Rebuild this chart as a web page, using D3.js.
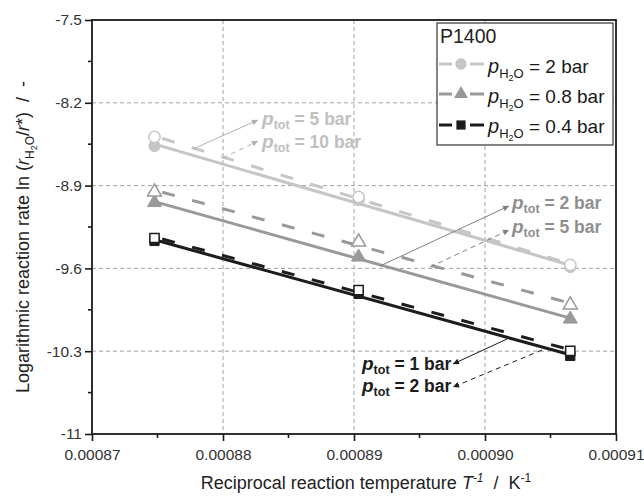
<!DOCTYPE html>
<html><head><meta charset="utf-8">
<script src="https://cdn.jsdelivr.net/npm/d3@7"></script>
<style>body{margin:0;background:#fff}svg{font-family:"Liberation Sans",Arial,sans-serif}</style>
</head><body><svg id="c" width="644" height="496"></svg>
<script>
// ---- data ----
const xValues = [0.00087477, 0.00089035, 0.00090651];          // 1/T (K^-1)
const seriesNames = ["2 bar", "0.8 bar", "0.4 bar"];            // p_H2O
const seriesColors = ["#c6c6c6", "#999999", "#1c1c1c"];
const seriesSymbols = ["circle", "triangle", "square"];
// solid (filled markers) and dashed (open markers) values
const solidValues = [
  [-8.565, -9.022, -9.588],
  [-9.043, -9.504, -10.028],
  [-9.368, -9.816, -10.340]
];
const dashedValues = [
  [-8.489, -8.996, -9.571],
  [-8.954, -9.377, -9.909],
  [-9.343, -9.783, -10.298]
];
const yTicks = [-7.5, -8.2, -8.9, -9.6, -10.3, -11];
const xTicks = [0.00087, 0.00088, 0.00089, 0.00090, 0.00091];
const xTickLabels = ["0.00087", "0.00088", "0.00089", "0.00090", "0.00091"];
// annotations: label texts, anchor positions (data units), arrows
const annoLabels = [["5 bar", "10 bar"], ["2 bar", "5 bar"], ["1 bar", "2 bar"]];
const annoTextX = [0.00088298, 0.00090206, 0.00089061];
const annoTextY = [[-8.3877, -8.5821], [-9.0978, -9.3007], [-10.459, -10.645]];
const annoArrows = [
  [[0.00087771, -8.5906, 0.00088267, -8.3454], [0.00088000, -8.6667, 0.00088267, -8.5229]],
  [[0.00089198, -9.5797, 0.00090183, -9.0725], [0.00089580, -9.5882, 0.00090183, -9.2754]],
  [[0.00090168, -10.197, 0.00089756, -10.408], [0.00090435, -10.290, 0.00089756, -10.603]]
];

// ---- layout ----
const FONT = "Liberation Sans, Arial, sans-serif";
const svg = d3.select("#c");
const L = 92, T = 20, R = 616, B = 434;
const x = d3.scaleLinear().domain([0.00087, 0.00091]).range([L, R]);
const y = d3.scaleLinear().domain([-11, -7.5]).range([B, T]);

// grid
const grid = svg.append("g").attr("stroke", "#8a8a8a").attr("stroke-width", 0.8).attr("stroke-dasharray", "4,3");
xTicks.slice(1, -1).forEach(v => grid.append("line").attr("x1", x(v)).attr("x2", x(v)).attr("y1", T).attr("y2", B));
yTicks.slice(1, -1).forEach(v => grid.append("line").attr("x1", L).attr("x2", R).attr("y1", y(v)).attr("y2", y(v)));

// axes
const yAxis = d3.axisLeft(y).tickValues(yTicks).tickFormat(d => String(d)).tickSize(7).tickPadding(3);
const gy = svg.append("g").attr("transform", `translate(${L},0)`).call(yAxis);
const xAxis = d3.axisBottom(x).tickValues(xTicks).tickFormat((d, i) => xTickLabels[i]).tickSize(7).tickPadding(8);
const gx = svg.append("g").attr("transform", `translate(0,${B})`).call(xAxis);
[gx, gy].forEach(g => {
  g.attr("font-family", FONT).attr("font-size", 15.5);
  g.select(".domain").remove();
  g.selectAll("line").attr("stroke", "#1a1a1a").attr("stroke-width", 1.6);
  g.selectAll("text").attr("fill", "#333");
});
// minor ticks
const yMinor = d3.range(0, yTicks.length - 1).map(i => (yTicks[i] + yTicks[i + 1]) / 2);
const xMinor = d3.range(0, xTicks.length - 1).map(i => (xTicks[i] + xTicks[i + 1]) / 2);
yMinor.forEach(v => svg.append("line").attr("x1", L - 4).attr("x2", L).attr("y1", y(v)).attr("y2", y(v)).attr("stroke", "#1a1a1a").attr("stroke-width", 1.6));
xMinor.forEach(v => svg.append("line").attr("x1", x(v)).attr("x2", x(v)).attr("y1", B).attr("y2", B + 4).attr("stroke", "#1a1a1a").attr("stroke-width", 1.6));
// frame
svg.append("rect").attr("x", L).attr("y", T).attr("width", R - L).attr("height", B - T)
  .attr("fill", "none").attr("stroke", "#1a1a1a").attr("stroke-width", 1.8);

// axis titles
const NB = "\u00a0";
const yl = svg.append("text").attr("transform", `translate(29,${(T + B) / 2 + 10}) rotate(-90)`)
  .attr("text-anchor", "middle").attr("font-size", 18).attr("fill", "#222");
yl.append("tspan").text("Logarithmic reaction rate ln (");
yl.append("tspan").attr("font-style", "italic").text("r");
yl.append("tspan").attr("font-size", 12).attr("dy", 5).text("H");
yl.append("tspan").attr("font-size", 9).attr("dy", 3).text("2");
yl.append("tspan").attr("font-size", 12).attr("dy", -3).text("O");
yl.append("tspan").attr("dy", -5).text("/");
yl.append("tspan").attr("font-style", "italic").text("r");
yl.append("tspan").text("*");
yl.append("tspan").text(")" + NB + NB + "/" + NB + NB + "-");

const xl = svg.append("text").attr("x", 366).attr("y", 489).attr("text-anchor", "middle")
  .attr("font-size", 18).attr("fill", "#222");
xl.append("tspan").text("Reciprocal reaction temperature ");
xl.append("tspan").attr("font-style", "italic").text("T");
xl.append("tspan").attr("font-style", "italic").attr("font-size", 12).attr("dy", -7).text("-1");
xl.append("tspan").attr("dy", 7).text(NB + NB + "/" + NB + NB + "K");
xl.append("tspan").attr("font-size", 12).attr("dy", -7).text("-1");

// arrowhead markers
const arrowColors = ["#b0b0b0", "#808080", "#1c1c1c"];
const defs = svg.append("defs");
arrowColors.forEach((c, i) => {
  defs.append("marker").attr("id", "ah" + i).attr("viewBox", "0 0 10 10").attr("refX", 10).attr("refY", 5)
    .attr("markerWidth", 9).attr("markerHeight", 6).attr("markerUnits", "userSpaceOnUse").attr("orient", "auto")
    .append("path").attr("d", "M0,0 L10,5 L0,10 z").attr("fill", c);
});

// fitted lines (least squares on the data points)
function fit(vals) {
  const mx = d3.mean(xValues), my = d3.mean(vals);
  const sxy = d3.sum(xValues, (xv, i) => (xv - mx) * (vals[i] - my));
  const sxx = d3.sum(xValues, xv => (xv - mx) * (xv - mx));
  const b = sxy / sxx, a = my - b * mx;
  return xValues.map(xv => [xv, a + b * xv]);
}
const line = d3.line().x(d => x(d[0])).y(d => y(d[1]));
seriesNames.forEach((n, i) => {
  const fd = fit(dashedValues[i]), fs = fit(solidValues[i]);
  svg.append("path").attr("d", line([fd[0], fd[2]]))
    .attr("stroke", seriesColors[i]).attr("stroke-width", 3).attr("fill", "none").attr("stroke-dasharray", "13,18").attr("stroke-dashoffset", -8);
  svg.append("path").attr("d", line([fs[0], fs[2]]))
    .attr("stroke", seriesColors[i]).attr("stroke-width", 3).attr("fill", "none");
});

// markers
const symType = { circle: d3.symbolCircle, triangle: d3.symbolTriangle, square: d3.symbolSquare };
const symSize = { circle: 100, triangle: 85, square: 85 };
seriesNames.forEach((n, i) => {
  const s = d3.symbol().type(symType[seriesSymbols[i]]).size(symSize[seriesSymbols[i]]);
  solidValues[i].forEach((v, j) => svg.append("path").attr("d", s())
    .attr("transform", `translate(${x(xValues[j])},${y(v)})`).attr("fill", seriesColors[i]).attr("stroke", seriesColors[i]));
  dashedValues[i].forEach((v, j) => svg.append("path").attr("d", s())
    .attr("transform", `translate(${x(xValues[j])},${y(v)})`).attr("fill", "#fff").attr("stroke", seriesColors[i]).attr("stroke-width", 1.5));
});

// annotations
const annoColors = ["#c0c0c0", "#8f8f8f", "#1c1c1c"];
seriesNames.forEach((n, i) => {
  annoArrows[i].forEach((a, k) => {
    svg.append("line").attr("x1", x(a[0])).attr("y1", y(a[1])).attr("x2", x(a[2])).attr("y2", y(a[3]))
      .attr("stroke", arrowColors[i]).attr("stroke-width", 1).attr("stroke-dasharray", k === 1 ? "5,4" : null)
      .attr("marker-end", `url(#ah${i})`);
  });
  annoLabels[i].forEach((lab, k) => {
    const t = svg.append("text").attr("x", x(annoTextX[i])).attr("y", y(annoTextY[i][k]))
      .attr("font-size", 17.5).attr("font-weight", "bold").attr("fill", annoColors[i]);
    t.append("tspan").attr("font-style", "italic").attr("font-size", 19).text("p");
    t.append("tspan").attr("font-size", 12.5).attr("dy", 4).text("tot");
    t.append("tspan").attr("dy", -4).text(" = " + lab);
  });
});

// legend
const lg = svg.append("g");
lg.append("rect").attr("x", 437).attr("y", 23).attr("width", 176).attr("height", 122)
  .attr("fill", "#fff").attr("stroke", "#333").attr("stroke-width", 1.2);
lg.append("text").attr("x", 440).attr("y", 43).attr("font-size", 19.5).attr("fill", "#222").text("P1400");
const legY = [64, 94, 125];
const legBase = [73, 103, 133];
seriesNames.forEach((n, i) => {
  const cy = legY[i];
  lg.append("line").attr("x1", 439).attr("x2", 452).attr("y1", cy).attr("y2", cy).attr("stroke", seriesColors[i]).attr("stroke-width", 3);
  lg.append("line").attr("x1", 470).attr("x2", 484).attr("y1", cy).attr("y2", cy).attr("stroke", seriesColors[i]).attr("stroke-width", 3);
  const s = d3.symbol().type(symType[seriesSymbols[i]]).size(symSize[seriesSymbols[i]]);
  lg.append("path").attr("d", s()).attr("transform", `translate(461,${cy})`).attr("fill", seriesColors[i]);
  const t = lg.append("text").attr("x", 488).attr("y", legBase[i]).attr("font-size", 19).attr("fill", "#1a1a1a");
  t.append("tspan").attr("font-style", "italic").attr("font-size", 20).text("p");
  t.append("tspan").attr("font-size", 13).attr("dy", 5).text("H");
  t.append("tspan").attr("font-size", 9).attr("dy", 3).text("2");
  t.append("tspan").attr("font-size", 13).attr("dy", -3).text("O");
  t.append("tspan").attr("dy", -5).text(" = " + n);
});
</script></body></html>
